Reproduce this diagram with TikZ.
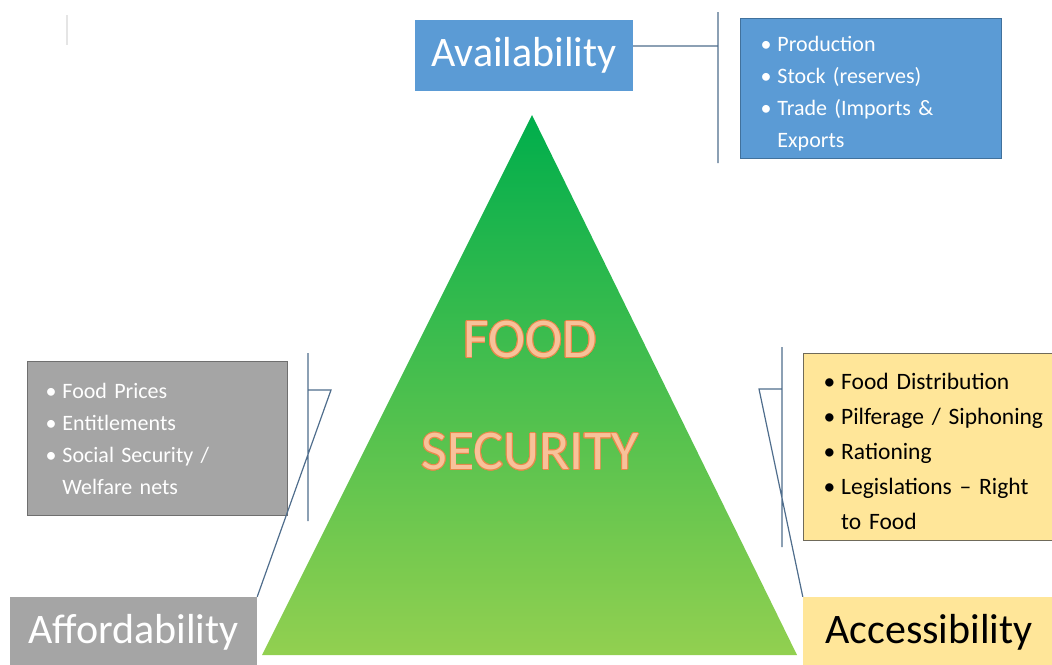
\documentclass[tikz,border=0pt]{standalone}
\usepackage{fontspec}
\setmainfont{Carlito}
\usepackage{contour}
\usepackage{tikz}
\usetikzlibrary{positioning}
\definecolor{availblue}{HTML}{5B9BD5}
\definecolor{availedge}{HTML}{41719C}
\definecolor{affordgray}{HTML}{A5A5A5}
\definecolor{affordedge}{HTML}{6F6F6F}
\definecolor{accessyellow}{HTML}{FFE699}
\definecolor{accessedge}{HTML}{6F6A5A}
\definecolor{linkblue}{HTML}{4F6D8C}
\definecolor{pyrtop}{HTML}{00AE4C}
\definecolor{pyrbottom}{HTML}{92D050}
\definecolor{peach}{HTML}{F8C29A}
\definecolor{peachedge}{HTML}{E8894A}
\contourlength{0.7pt}
\tikzstyle{titlebox}=[rectangle, inner sep=0pt, font=\fontsize{42}{48}\selectfont]
\tikzstyle{listbox}=[rectangle, anchor=north west, align=left, inner ysep=0pt, line width=1pt, font=\fontsize{22}{32}\selectfont]
\tikzstyle{pyrtext}=[text=peach, font=\fontsize{56}{60}\selectfont]
\tikzstyle{link}=[draw=linkblue, line width=1.2pt]
\newcommand{\pointlist}[2][5pt]{\raisebox{-#1}[\height][\depth]{\begin{tabular}{@{}l@{\hspace{6pt}}l@{}}#2\end{tabular}}}

\begin{document}
\begin{tikzpicture}
[x=1pt, y=-1pt]
 \useasboundingbox (0,0) rectangle (1052,664);
 \draw[black!10, line width=1.5pt] (67,15) -- (67,45);
 % the pyramid
 \coordinate (apex) at (532,115);
 \coordinate (baseR) at (797,655);
 \coordinate (baseL) at (262,655);
 \shade[top color=pyrtop, bottom color=pyrbottom] (apex) -- (baseR) -- (baseL) -- cycle;
 \node[pyrtext] (food) at (530,340) {\contour{peachedge}{FOOD}};
 \node[pyrtext] (security) at (530,452) {\contour{peachedge}{SECURITY}};
 % the three pillars
 \node[titlebox, fill=availblue, text=white, minimum width=218pt, minimum height=71pt] (avail) at (524,55.5) {Availability};
 \node[titlebox, fill=affordgray, text=white, minimum width=247pt, minimum height=70pt] (afford) at (133.5,632) {Affordability};
 \node[titlebox, fill=accessyellow, text=black, minimum width=252pt, minimum height=70pt] (access) at (929,632) {Accessibility};
 % what each pillar covers
 \node[listbox, fill=availblue, draw=availedge, text=white, inner xsep=20pt, text width=221pt, minimum height=140pt] (availpts) at (740,18)
   {\pointlist{\textbullet & Production\\ \textbullet & Stock (reserves)\\ \textbullet & Trade (Imports \&\\ & Exports}};
 \node[listbox, fill=affordgray, draw=affordedge, text=white, inner xsep=18pt, text width=224pt, minimum height=154pt] (affordpts) at (27,361)
   {\pointlist[1.5pt]{\textbullet & Food Prices\\ \textbullet & Entitlements\\ \textbullet & Social Security /\\ & Welfare nets}};
 \node[listbox, fill=accessyellow, draw=accessedge, text=black, inner xsep=20pt, text width=236pt, minimum height=187pt, font=\fontsize{23.5}{35}\selectfont] (accesspts) at (803,353)
   {\pointlist{\textbullet & Food Distribution\\ \textbullet & Pilferage / Siphoning\\ \textbullet & Rationing\\ \textbullet & Legislations -- Right\\ & to Food}};
 % brackets
 \coordinate (topbarN) at (718,12);
 \coordinate (topbarS) at (718,163);
 \coordinate (topjoin) at (718,46);
 \coordinate (lbarN) at (308,353);
 \coordinate (lbarS) at (308,521);
 \coordinate (lknee) at (331,390);
 \coordinate (rbarN) at (782,347);
 \coordinate (rbarS) at (782,547);
 \coordinate (rknee) at (759,389);
 \path[link]
   (topbarN) -- (topbarS)
   (avail.east |- topjoin) -- (topjoin)
   (lbarN) -- (lbarS)
   (lbarN |- lknee) -- (lknee) -- (afford.north east)
   (rbarN) -- (rbarS)
   (rbarN |- rknee) -- (rknee) -- (access.north west);
\end{tikzpicture}
\end{document}
